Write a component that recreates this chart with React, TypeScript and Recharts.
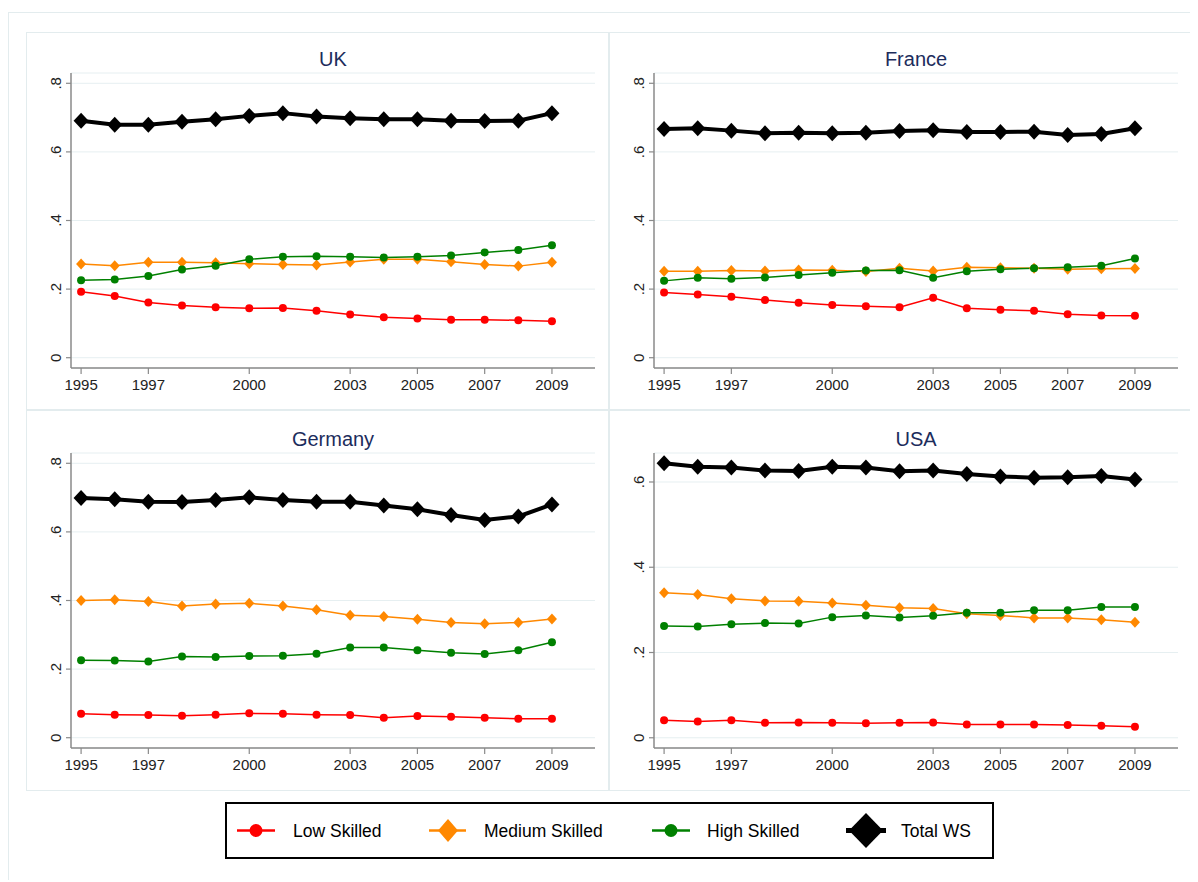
import React from 'react';
import { LineChart, Line, XAxis, YAxis, CartesianGrid } from 'recharts';

const years = [1995, 1996, 1997, 1998, 1999, 2000, 2001, 2002, 2003, 2004, 2005, 2006, 2007, 2008, 2009];
const xTicks = [1995, 1997, 2000, 2003, 2005, 2007, 2009];
const yTicks08 = [0, 0.2, 0.4, 0.6, 0.8];
const yTicks06 = [0, 0.2, 0.4, 0.6];

// UK
const ukLow = [0.192, 0.18, 0.161, 0.152, 0.147, 0.144, 0.145, 0.137, 0.126, 0.118, 0.114, 0.111, 0.111, 0.109, 0.106];
const ukMedium = [0.273, 0.268, 0.278, 0.278, 0.277, 0.274, 0.272, 0.27, 0.279, 0.287, 0.287, 0.28, 0.272, 0.267, 0.278];
const ukHigh = [0.226, 0.228, 0.238, 0.257, 0.268, 0.287, 0.294, 0.296, 0.294, 0.292, 0.294, 0.298, 0.307, 0.314, 0.328];
const ukTotal = [0.691, 0.679, 0.679, 0.688, 0.695, 0.705, 0.713, 0.703, 0.698, 0.695, 0.695, 0.691, 0.69, 0.691, 0.713];

// France
const frLow = [0.19, 0.184, 0.178, 0.168, 0.16, 0.154, 0.15, 0.147, 0.175, 0.144, 0.14, 0.137, 0.127, 0.123, 0.122];
const frMedium = [0.252, 0.252, 0.254, 0.253, 0.256, 0.255, 0.251, 0.261, 0.253, 0.264, 0.262, 0.261, 0.258, 0.259, 0.26];
const frHigh = [0.224, 0.233, 0.23, 0.234, 0.241, 0.248, 0.254, 0.255, 0.233, 0.252, 0.258, 0.261, 0.264, 0.268, 0.289];
const frTotal = [0.667, 0.669, 0.662, 0.654, 0.656, 0.654, 0.656, 0.661, 0.663, 0.658, 0.658, 0.659, 0.649, 0.652, 0.669];

// Germany
const deLow = [0.07, 0.067, 0.066, 0.064, 0.067, 0.071, 0.07, 0.067, 0.066, 0.058, 0.063, 0.061, 0.058, 0.055, 0.055];
const deMedium = [0.4, 0.402, 0.397, 0.384, 0.39, 0.392, 0.384, 0.373, 0.357, 0.353, 0.345, 0.336, 0.332, 0.336, 0.346];
const deHigh = [0.226, 0.225, 0.222, 0.237, 0.235, 0.238, 0.239, 0.245, 0.263, 0.263, 0.255, 0.248, 0.244, 0.255, 0.278];
const deTotal = [0.699, 0.695, 0.688, 0.687, 0.693, 0.701, 0.693, 0.688, 0.688, 0.677, 0.666, 0.649, 0.635, 0.645, 0.68];

// USA
const usLow = [0.041, 0.038, 0.041, 0.035, 0.036, 0.035, 0.034, 0.035, 0.036, 0.031, 0.031, 0.031, 0.03, 0.028, 0.026];
const usMedium = [0.34, 0.336, 0.326, 0.321, 0.32, 0.316, 0.311, 0.305, 0.303, 0.291, 0.287, 0.281, 0.281, 0.277, 0.271];
const usHigh = [0.262, 0.261, 0.266, 0.269, 0.268, 0.283, 0.287, 0.282, 0.286, 0.293, 0.293, 0.299, 0.299, 0.307, 0.307];
const usTotal = [0.644, 0.636, 0.634, 0.627, 0.626, 0.636, 0.634, 0.625, 0.627, 0.619, 0.613, 0.61, 0.611, 0.614, 0.606];

const seriesNames = ['Low Skilled', 'Medium Skilled', 'High Skilled', 'Total WS'];

const RED = '#ff0000';
const ORANGE = '#ff8800';
const GREEN = '#008000';
const BLACK = '#000000';
const FONT = '"Liberation Sans", Arial, Helvetica, sans-serif';
const AXIS = '#8a8a8a';
const GRID = '#e6eff1';
const PANEL_BORDER = '#e3ecee';

function build(low: number[], med: number[], high: number[], total: number[]) {
  return years.map((y, i) => ({ year: y, low: low[i], medium: med[i], high: high[i], total: total[i] }));
}

const diamondDot = (hw: number, hh: number, color: string) => (props: any) => {
  const { cx, cy, index } = props;
  if (cx == null || cy == null) return <g key={`e-${index}`} />;
  return (
    <path
      key={`d-${color}-${index}`}
      d={`M${cx},${cy - hh}L${cx + hw},${cy}L${cx},${cy + hh}L${cx - hw},${cy}Z`}
      fill={color}
    />
  );
};

const fmtY = (v: number) => (v === 0 ? '0' : String(Math.round(v * 10) / 10).replace(/^0/, ''));

const YTick = (props: any) => {
  const { x, y, payload } = props;
  return (
    <text
      x={x}
      y={y}
      transform={`rotate(-90 ${x} ${y})`}
      textAnchor="middle"
      fontSize={15}
      fill="#222"
      fontFamily={FONT}
    >
      {fmtY(payload.value)}
    </text>
  );
};

type PanelProps = {
  title: string;
  data: any[];
  yDomain: [number, number];
  yTicks: number[];
  left: number;
  top: number;
  height: number;
  plotTop: number;
  titleTop: number;
};

const PW = 583;

function Panel({ title, data, yDomain, yTicks, left, top, height, plotTop, titleTop }: PanelProps) {
  const xAxisH = height - plotTop - 295;
  return (
    <div style={{ position: 'absolute', left, top, width: PW, height }}>
      <div
        style={{
          position: 'absolute',
          left: 0,
          top: 0,
          width: PW,
          height,
          boxSizing: 'border-box',
          border: `1px solid ${PANEL_BORDER}`,
        }}
      />
      <div
        style={{
          position: 'absolute',
          left: 45,
          top: titleTop,
          width: 524,
          textAlign: 'center',
          fontFamily: FONT,
          fontSize: 20,
          lineHeight: '24px',
          color: '#1c2c5c',
        }}
      >
        {title}
      </div>
      <div style={{ position: 'absolute', left: 0, top: 0 }}>
        <LineChart width={PW} height={height} data={data} margin={{ top: plotTop, right: 14, left: 0, bottom: 0 }}>
          <CartesianGrid vertical={false} horizontal stroke={GRID} strokeWidth={1} />
          <XAxis
            dataKey="year"
            type="number"
            domain={[1994.7, 2010.28]}
            allowDataOverflow
            ticks={xTicks}
            height={xAxisH}
            tickSize={6}
            tickMargin={5}
            axisLine={{ stroke: AXIS, strokeWidth: 1.5 }}
            tickLine={{ stroke: AXIS, strokeWidth: 1.2 }}
            tick={{ fill: '#222', fontSize: 15, fontFamily: FONT }}
            interval={0}
          />
          <YAxis
            type="number"
            domain={yDomain}
            allowDataOverflow
            ticks={yTicks}
            width={45}
            tickSize={5}
            tickMargin={5}
            axisLine={{ stroke: AXIS, strokeWidth: 1.5 }}
            tickLine={{ stroke: AXIS, strokeWidth: 1.2 }}
            tick={<YTick />}
            interval={0}
          />
          <Line
            dataKey="low"
            name={seriesNames[0]}
            stroke={RED}
            strokeWidth={1.5}
            dot={{ r: 4, fill: RED, stroke: RED, strokeWidth: 0 }}
            isAnimationActive={false}
          />
          <Line
            dataKey="medium"
            name={seriesNames[1]}
            stroke={ORANGE}
            strokeWidth={1.5}
            dot={diamondDot(5, 5.5, ORANGE)}
            isAnimationActive={false}
          />
          <Line
            dataKey="high"
            name={seriesNames[2]}
            stroke={GREEN}
            strokeWidth={1.5}
            dot={{ r: 4, fill: GREEN, stroke: GREEN, strokeWidth: 0 }}
            isAnimationActive={false}
          />
          <Line
            dataKey="total"
            name={seriesNames[3]}
            stroke={BLACK}
            strokeWidth={4}
            dot={diamondDot(7.5, 8, BLACK)}
            isAnimationActive={false}
          />
        </LineChart>
      </div>
    </div>
  );
}

function Legend() {
  const cy = 28.5;
  const txt = (x: number, s: string) => (
    <text x={x} y={cy} dominantBaseline="central" fontFamily={FONT} fontSize={17.5} fill="#000">
      {s}
    </text>
  );
  return (
    <svg style={{ position: 'absolute', left: 217, top: 794 }} width={770} height={58}>
      <rect x={1} y={1} width={767} height={55} fill="#fff" stroke="#000" strokeWidth={2} />
      <line x1={12} x2={50} y1={cy} y2={cy} stroke={RED} strokeWidth={2.5} />
      <circle cx={31} cy={cy} r={6.5} fill={RED} />
      {txt(68, seriesNames[0])}
      <line x1={204} x2={241} y1={cy} y2={cy} stroke={ORANGE} strokeWidth={2.5} />
      <path d={`M223,${cy - 11.5}L233,${cy}L223,${cy + 11.5}L213,${cy}Z`} fill={ORANGE} />
      {txt(259, seriesNames[1])}
      <line x1={427} x2={465} y1={cy} y2={cy} stroke={GREEN} strokeWidth={2.5} />
      <circle cx={446} cy={cy} r={6.5} fill={GREEN} />
      {txt(482, seriesNames[2])}
      <line x1={621} x2={661} y1={cy} y2={cy} stroke={BLACK} strokeWidth={5} />
      <path d={`M641,${cy - 17.5}L658,${cy}L641,${cy + 17.5}L624,${cy}Z`} fill={BLACK} />
      {txt(676, seriesNames[3])}
    </svg>
  );
}

export default function App() {
  return (
    <div style={{ position: 'relative', width: 1190, height: 872, background: '#fff', overflow: 'hidden' }}>
      <div
        style={{
          position: 'absolute',
          left: 0,
          top: 4,
          width: 1190,
          height: 868,
          borderTop: `1px solid ${PANEL_BORDER}`,
          borderLeft: `1px solid ${PANEL_BORDER}`,
        }}
      />
      <Panel
        title="UK"
        data={build(ukLow, ukMedium, ukHigh, ukTotal)}
        yDomain={[-0.03, 0.83]}
        yTicks={yTicks08}
        left={18}
        top={24}
        height={378}
        plotTop={41}
        titleTop={15}
      />
      <Panel
        title="France"
        data={build(frLow, frMedium, frHigh, frTotal)}
        yDomain={[-0.03, 0.83]}
        yTicks={yTicks08}
        left={601}
        top={24}
        height={378}
        plotTop={41}
        titleTop={15}
      />
      <Panel
        title="Germany"
        data={build(deLow, deMedium, deHigh, deTotal)}
        yDomain={[-0.03, 0.83]}
        yTicks={yTicks08}
        left={18}
        top={402}
        height={381}
        plotTop={43}
        titleTop={17}
      />
      <Panel
        title="USA"
        data={build(usLow, usMedium, usHigh, usTotal)}
        yDomain={[-0.024, 0.668]}
        yTicks={yTicks06}
        left={601}
        top={402}
        height={381}
        plotTop={43}
        titleTop={17}
      />
      <Legend />
    </div>
  );
}
